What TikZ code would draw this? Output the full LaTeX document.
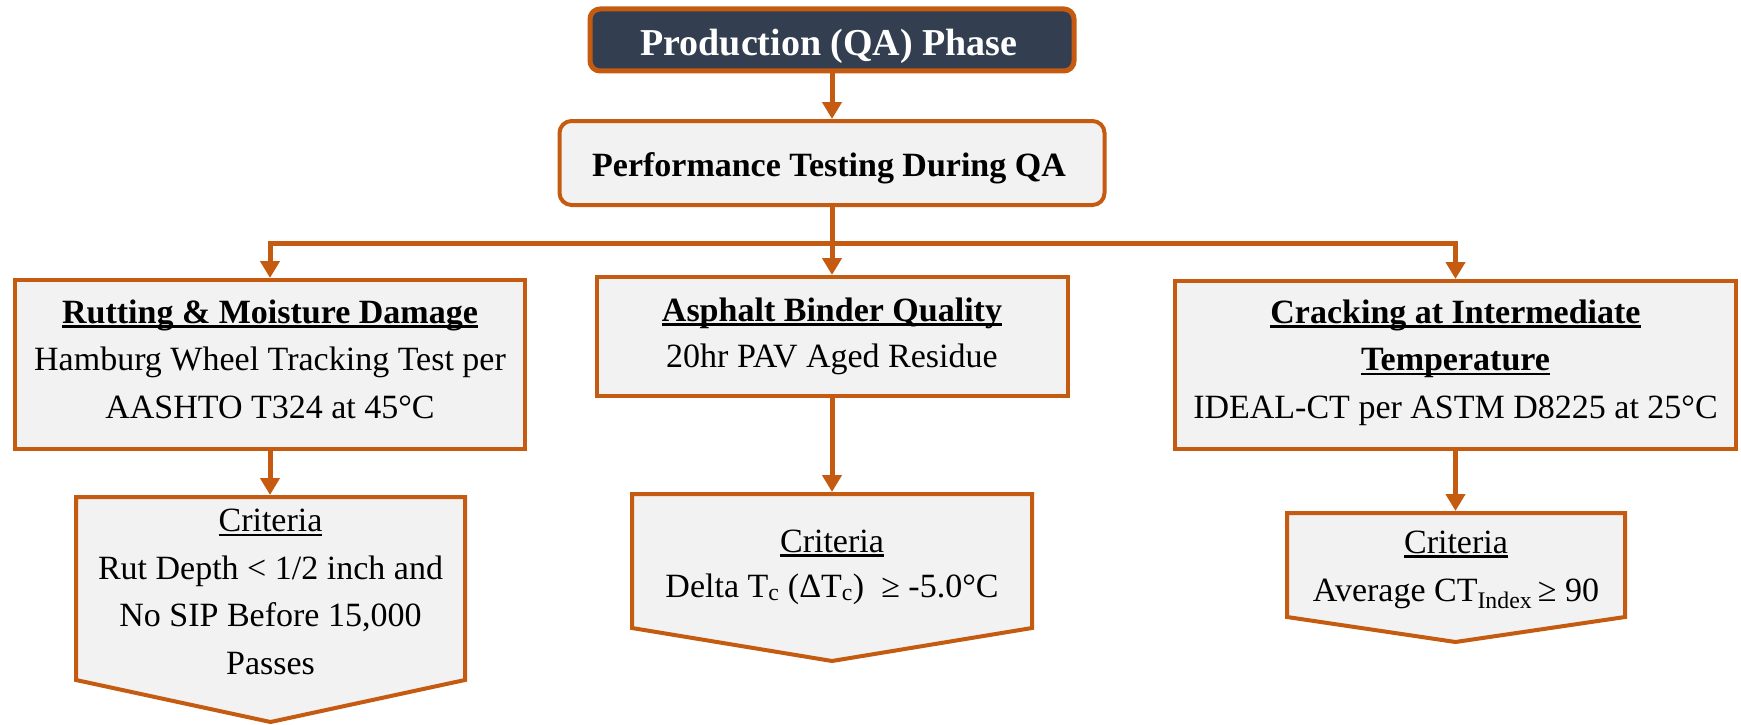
\documentclass[tikz,border=0pt]{standalone}
\usepackage{fontspec}
\setmainfont{Liberation Serif}
\usetikzlibrary{arrows.meta}
\definecolor{orng}{HTML}{C55A11}
\definecolor{navy}{HTML}{333F50}
\definecolor{boxbg}{HTML}{F2F2F2}
\newcommand{\uln}[1]{\leavevmode\setbox0\hbox{#1}\rlap{\rule[-0.14em]{\wd0}{0.08em}}\box0}
\begin{document}
\begin{tikzpicture}[x=1pt,y=-1pt,
  box/.style={draw=orng, line width=4pt, fill=boxbg, inner sep=0pt, line join=miter},
  conn/.style={draw=orng, line width=5pt, -{Triangle[width=19pt,length=17pt]}},
  txt/.style={align=center, inner sep=0pt, anchor=base, font=\fontsize{34}{47.5}\selectfont}
]
\useasboundingbox (0,0) rectangle (1741,725);

% boxes
\node[box, draw=orng, line width=5pt, fill=navy, rounded corners=10pt, minimum width=484pt, minimum height=62pt] (top) at (832,40) {};
\node[box, rounded corners=12pt, minimum width=545pt, minimum height=84pt] (pt) at (832,163) {};
\node[box, minimum width=510pt, minimum height=169pt] (rut) at (270,364.5) {};
\node[box, minimum width=471pt, minimum height=119pt] (asp) at (832,336.5) {};
\node[box, minimum width=561pt, minimum height=168pt] (crk) at (1455.5,365) {};

% criteria shapes
\draw[box] (76,497) -- (465,497) -- (465,680) -- (270.5,722) -- (76,680) -- cycle;
\draw[box] (632,494) -- (1032,494) -- (1032,628) -- (832,661) -- (632,628) -- cycle;
\draw[box] (1287,513) -- (1625,513) -- (1625,617) -- (1455.5,642) -- (1287,617) -- cycle;
\coordinate (c1) at (270,495);
\coordinate (c2) at (832,492);
\coordinate (c3) at (1455.5,511);
\coordinate (busL) at (270,243);
\coordinate (busR) at (1455.5,243);

% connectors
\draw[conn] (top.south) -- (pt.north);
\draw[conn] (pt.south) |- (busL) -- (rut.north);
\draw[conn] (pt.south) |- (busR) -- (crk.north);
\draw[conn] (pt.south) -- (asp.north);
\draw[conn] (rut.south) -- (c1);
\draw[conn] (asp.south) -- (c2);
\draw[conn] (crk.south) -- (c3);

% texts (base anchor = baseline of the last line)
\node[txt, text=white, font=\bfseries\fontsize{38}{43}\selectfont] (toptxt) at (829,56) {Production (QA) Phase};
\node[txt, font=\bfseries\fontsize{34}{40}\selectfont] (pttxt) at (829,176) {Performance Testing During QA};
\node[txt] (ruttxt) at (270,418) {\textbf{\uln{Rutting \& Moisture Damage}}\\Hamburg Wheel Tracking Test per\\AASHTO T324 at 45°C};
\node[txt, font=\fontsize{34}{46}\selectfont] (asptxt) at (832,367) {\textbf{\uln{Asphalt Binder Quality}}\\20hr PAV Aged Residue};
\node[txt] (crktxt) at (1455.5,418) {\textbf{\uln{Cracking at Intermediate}}\\\textbf{\uln{Temperature}}\\IDEAL-CT per ASTM D8225 at 25°C};
\node[txt] (c1txt) at (270.5,674) {\uln{Criteria}\\Rut Depth < 1/2 inch and\\No SIP Before 15,000\\Passes};
\node[txt, font=\fontsize{34}{45}\selectfont] (c2txt) at (832,597) {\uln{Criteria}\\Delta T\textsubscript{c} (ΔT\textsubscript{c})\ \ ≥ -5.0°C};
\node[txt, font=\fontsize{34}{48}\selectfont] (c3txt) at (1456,601) {\uln{Criteria}\\Average CT\textsubscript{Index}\,≥ 90};
\end{tikzpicture}
\end{document}
